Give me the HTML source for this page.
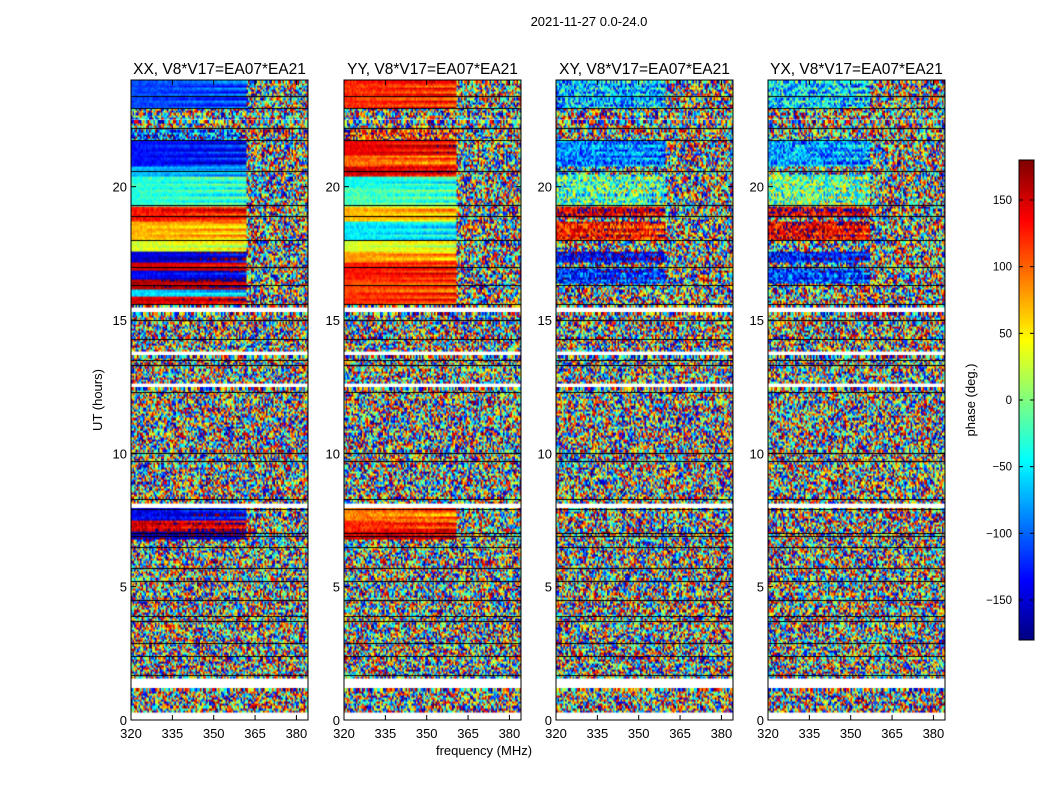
<!DOCTYPE html>
<html><head><meta charset="utf-8">
<style>
html,body{margin:0;padding:0;background:#fff;}
#wrap{position:relative;width:1050px;height:800px;font-family:"Liberation Sans","DejaVu Sans",sans-serif;}
canvas{position:absolute;}
svg{position:absolute;left:0;top:0;}
</style></head>
<body>
<div id="wrap">
<canvas id="c0"></canvas>
<canvas id="c1"></canvas>
<canvas id="c2"></canvas>
<canvas id="c3"></canvas>
<canvas id="cb"></canvas>
<svg id="ov" width="1050" height="800"></svg>
</div>
<script>
// ---- data ----
const panelTitles = ["XX, V8*V17=EA07*EA21","YY, V8*V17=EA07*EA21","XY, V8*V17=EA07*EA21","YX, V8*V17=EA07*EA21"];
const xTicks = [320,335,350,365,380];
const yTicks = [0,5,10,15,20];
const cbTicks = [150,100,50,0,-50,-100,-150];
// frequency above which channels are incoherent, per panel (MHz)
const splitFreq = [362,361,360,357];
// coherent bands: start hour, end hour, phase (deg), noise fraction (0..1)
const xxStart = [22.95,21.75,20.8,20.4,19.3,18.75,18.0,17.6,17.2,16.9,16.6,16.2,15.9,15.6,7.5,7.1,6.8];
const xxEnd   = [24.0,22.2,21.75,20.8,20.4,19.3,18.75,18.0,17.6,17.2,16.9,16.6,16.2,15.9,7.95,7.5,7.1];
const xxPhase = [-110,-100,-130,-70,-30,130,70,30,-150,150,-140,160,-60,150,-140,150,-160];
const xxNoise = [0.08,0.6,0.08,0.08,0.1,0.1,0.08,0.1,0.08,0.08,0.1,0.08,0.1,0.1,0.15,0.15,0.15];
const yyStart = [22.95,21.75,21.2,20.8,20.4,20.0,19.3,18.75,18.0,17.6,17.2,16.6,16.1,15.6,7.5,7.1,6.8];
const yyEnd   = [24.0,22.2,21.75,21.2,20.8,20.4,20.0,19.3,18.75,18.0,17.6,17.2,16.6,16.1,7.95,7.5,7.1];
const yyPhase = [120,120,140,100,150,-40,-20,70,-50,30,80,130,110,120,90,120,150];
const yyNoise = [0.1,0.6,0.08,0.1,0.12,0.1,0.12,0.08,0.1,0.08,0.08,0.08,0.08,0.08,0.12,0.12,0.15];
const xyStart = [22.95,20.8,19.3,18.9,18.0,17.2,16.4];
const xyEnd   = [24.0,21.75,20.5,19.3,18.75,17.6,17.0];
const xyPhase = [-70,-90,-20,150,130,-140,-120];
const xyNoise = [0.45,0.3,0.5,0.3,0.3,0.3,0.35];
const yxStart = [22.95,20.8,19.3,18.9,18.0,17.2,16.4];
const yxEnd   = [24.0,21.75,20.5,19.3,18.75,17.6,17.0];
const yxPhase = [-60,-80,-10,150,140,-130,-110];
const yxNoise = [0.45,0.35,0.5,0.35,0.3,0.3,0.35];
// flagged (blank) time ranges, hours
const gapStart = [0.0,1.24,7.95,12.45,13.65,15.26,22.45];
const gapEnd   = [0.3,1.57,8.17,12.64,13.87,15.55,22.6];
// scan-boundary black lines, hours
const blackLines = [23.4,22.95,22.2,21.75,20.6,19.3,18.9,18.0,17.0,16.3,15.6,15.0,14.3,13.5,13.3,12.3,10.0,9.7,8.3,7.9,7.0,6.9,6.5,5.7,5.2,4.5,3.9,3.7,2.9,2.4,1.7];

// ---- layout ----
const panelX = [131,344,556,768], pw = 177, py = 80, ph = 640;
const fMin = 320, fMax = 384.2, tMax = 24;
const xScale = (p,f)=>panelX[p]+(f-fMin)/(fMax-fMin)*pw;
const yScale = t=>py+ph-(t/tMax)*ph;
const cbX=1019, cbY=160, cbW=15, cbH=480;
const cbScale = v=>cbY+(180-v)/360*cbH;

function jet(v){ // v in 0..1
  const r=Math.min(Math.max(1.5-Math.abs(4*v-3),0),1);
  const g=Math.min(Math.max(1.5-Math.abs(4*v-2),0),1);
  const b=Math.min(Math.max(1.5-Math.abs(4*v-1),0),1);
  return `rgb(${Math.round(r*255)},${Math.round(g*255)},${Math.round(b*255)})`;
}
function tex(i,j,p){let h=(i*374761393+j*668265263+p*2147483647)|0;h=(h^(h>>>13))*1274126177|0;h^=h>>>16;return ((h>>>0)%10000)/10000;}
function wrap(ph){while(ph>180)ph-=360;while(ph<-180)ph+=360;return ph;}

const bands = [[xxStart,xxEnd,xxPhase,xxNoise],[yyStart,yyEnd,yyPhase,yyNoise],[xyStart,xyEnd,xyPhase,xyNoise],[yxStart,yxEnd,yxPhase,yxNoise]];
const cw=1.5, rowH=0.08;
for(let p=0;p<4;p++){
  const cv=document.getElementById('c'+p);
  cv.width=pw;cv.height=ph;cv.style.left=panelX[p]+'px';cv.style.top=py+'px';
  const ctx=cv.getContext('2d');
  ctx.fillStyle='#fff';ctx.fillRect(0,0,pw,ph);
  const [bs,be,bp,bn]=bands[p];
  const nRows=Math.round(tMax/rowH), nCols=Math.ceil(pw/cw);
  for(let r=0;r<nRows;r++){
    const t=(r+0.5)*rowH;
    let gap=false;for(let g=0;g<gapStart.length;g++) if(t>=gapStart[g]&&t<gapEnd[g]) gap=true;
    if(gap) continue;
    let bi=-1;for(let k=0;k<bs.length;k++) if(t>=bs[k]&&t<be[k]) bi=k;
    const y0=yScale((r+1)*rowH)-py, y1=yScale(r*rowH)-py;
    for(let c=0;c<nCols;c++){
      const f=fMin+(c*cw+1)/pw*(fMax-fMin);
      let phase;
      if(bi>=0 && f<splitFreq[p]){
        phase=wrap(bp[bi]+(tex(c,r,p)-0.5)*2*180*bn[bi]+(f-fMin)*0.8*((r%3)-1));
      } else phase=(tex(c,r,p)-0.5)*360;
      ctx.fillStyle=jet((phase+180)/360);
      ctx.fillRect(c*cw,Math.floor(y0),cw+0.5,Math.ceil(y1-y0)+0.5);
    }
  }
  ctx.fillStyle='#000';
  for(const t of blackLines){ctx.fillRect(0,Math.round(yScale(t)-py),pw,1);}
}
// colorbar
const cb=document.getElementById('cb');cb.width=cbW;cb.height=cbH;cb.style.left=cbX+'px';cb.style.top=cbY+'px';
const cctx=cb.getContext('2d');
for(let y=0;y<cbH;y++){cctx.fillStyle=jet(1-y/cbH);cctx.fillRect(0,y,cbW,1);}

// ---- overlay ----
const ns='http://www.w3.org/2000/svg', ov=document.getElementById('ov');
function el(tag,attrs,txt){const e=document.createElementNS(ns,tag);for(const k in attrs)e.setAttribute(k,attrs[k]);if(txt!==undefined)e.textContent=txt;ov.appendChild(e);return e;}
let e;
e=el('text',{x:589,y:26,'text-anchor':'middle','font-size':13});
e.textContent='2021-11-27 0.0-24.0';


for(let p=0;p<4;p++){
  e=el('rect',{x:panelX[p],y:py,width:pw,height:ph,fill:'none',stroke:'#000','stroke-width':1});
  
  
  e=el('text',{x:panelX[p]+pw/2,y:74,'text-anchor':'middle','font-size':15.5},panelTitles[p]);
  
  
  for(const f of xTicks){
    const x=xScale(p,f);
    el('line',{x1:x,x2:x,y1:py+ph,y2:py+ph-5,stroke:'#000'});
    el('line',{x1:x,x2:x,y1:py,y2:py+5,stroke:'#000'});
    e=el('text',{x:x,y:738,'text-anchor':'middle','font-size':13},String(f));
    
    
  }
  for(const t of yTicks){
    const y=yScale(t);
    el('line',{x1:panelX[p],x2:panelX[p]+5,y1:y,y2:y,stroke:'#000'});
    el('line',{x1:panelX[p]+pw,x2:panelX[p]+pw-5,y1:y,y2:y,stroke:'#000'});
    e=el('text',{x:panelX[p]-4,y:y+5,'text-anchor':'end','font-size':13},String(t));
    
    
  }
}
e=el('text',{x:484,y:755,'text-anchor':'middle','font-size':13},'frequency (MHz)');


e=el('text',{x:0,y:0,'text-anchor':'middle','font-size':13,transform:'translate(102,400) rotate(-90)'},'UT (hours)');


e=el('rect',{x:cbX,y:cbY,width:cbW,height:cbH,fill:'none',stroke:'#000'});


for(const v of cbTicks){
  const y=cbScale(v);
  el('line',{x1:cbX,x2:cbX+4,y1:y,y2:y,stroke:'#000'});
  el('line',{x1:cbX+cbW,x2:cbX+cbW-4,y1:y,y2:y,stroke:'#000'});
  e=el('text',{x:1012,y:y+4,'text-anchor':'end','font-size':11.5},(v<0?'\u2212'+(-v):String(v)));
  
  
}
e=el('text',{x:0,y:0,'text-anchor':'middle','font-size':13,transform:'translate(975,400) rotate(-90)'},'phase (deg.)');


</script>
</body></html>
